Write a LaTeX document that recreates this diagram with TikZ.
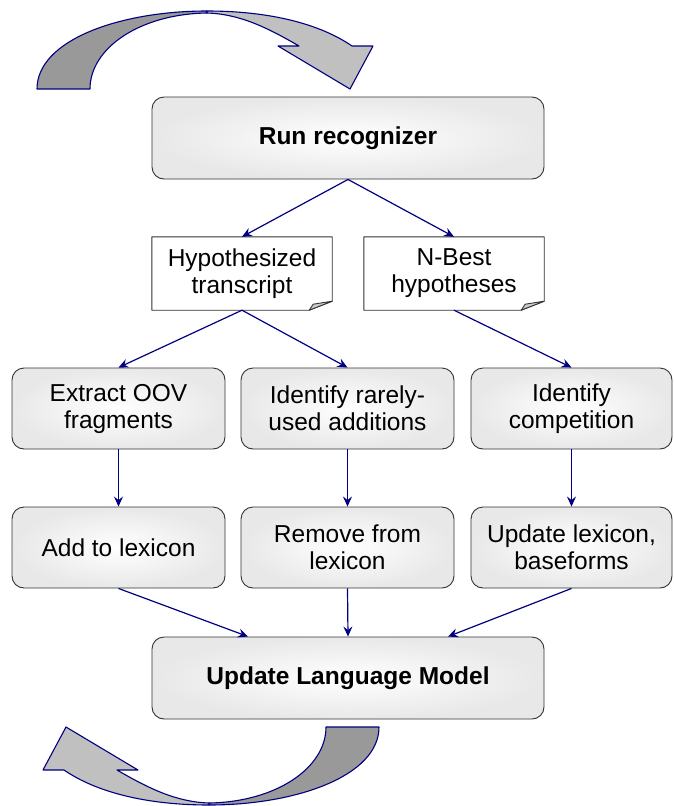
\documentclass[tikz,border=0pt]{standalone}
\usepackage{fontspec}
\setmainfont{Liberation Sans}
\usepackage{tikz}
\usetikzlibrary{arrows.meta,calc}

\definecolor{navy}{RGB}{0,0,128}
\definecolor{grisfonce}{RGB}{153,153,153}
\definecolor{grisclair}{RGB}{192,192,192}

\tikzset{
  boite/.style={rectangle, rounded corners=12pt, draw=black!80, line width=0.9pt,
    inner color=white, outer color=gray!18, align=center,
    font=\fontsize{24.5}{27}\selectfont, minimum height=81pt},
  doc/.style={rectangle, align=center, minimum width=180pt, minimum height=73pt,
    font=\fontsize{24.5}{27}\selectfont},
  docligne/.style={draw=black!80, line width=0.9pt, line join=round},
  ruban/.style={draw=navy, line width=1.1pt, line join=round},
  fleche/.style={draw=navy, line width=1.2pt, -{Stealth[length=10pt,width=9pt,inset=3.5pt]}},
}

\begin{document}
\begin{tikzpicture}[x=1pt,y=-1pt]
\pgfmathsetmacro{\xg}{118.5}%
\pgfmathsetmacro{\xm}{347.5}%
\pgfmathsetmacro{\xd}{571.5}%
\pgfmathsetmacro{\ya}{408.5}%
\pgfmathsetmacro{\yb}{547.5}%

\useasboundingbox (0,0) rectangle (673,806);

%fleches courbes (haut, puis bas par symetrie)
\foreach \ang in {0,180}{
  \begin{scope}[rotate around={\ang:(208,408)}]
    \filldraw[ruban, fill=grisfonce] (37,89) .. controls (37,40) and (120,11) .. (207,11)
      -- (207,13) .. controls (140,14) and (90,48) .. (90,89) -- cycle;
    \filldraw[ruban, fill=grisclair] (207,11) .. controls (270,11) and (320,24) .. (352,46)
      -- (373,46) -- (350,89) -- (278,46) -- (299,46)
      .. controls (268,28) and (240,14) .. (207,13) -- cycle;
  \end{scope}
}

%recognizer
\node[boite, minimum width=392pt, minimum height=82pt] (run) at (348,138) {\textbf{Run recognizer}};

%documents
\node[doc] (hyp) at (242,273.5) {Hypothesized\\transcript};
\node[doc] (nbest) at (454,273.5) {N-Best\\hypotheses};
\foreach \n in {hyp,nbest}{
  \draw[docligne] (\n.north west) -- (\n.north east) -- ($(\n.south east)+(0,-9)$)
    -- ($(\n.south east)+(-23,0)$) -- (\n.south west) -- cycle;
  \filldraw[docligne, fill=gray!40] ($(\n.south east)+(-23,0)$) -- ($(\n.south east)+(-19,-6)$)
    -- ($(\n.south east)+(0,-9)$) -- cycle;
}

%boites
\node[boite, minimum width=213pt] (oov) at (\xg,\ya) {Extract OOV\\fragments};
\node[boite, minimum width=213pt] (rare) at (\xm,\ya) {Identify rarely-\\used additions};
\node[boite, minimum width=201pt] (comp) at (\xd,\ya) {Identify\\competition};
\node[boite, minimum width=213pt] (ajout) at (\xg,\yb) {Add to lexicon};
\node[boite, minimum width=213pt] (retrait) at (\xm,\yb) {Remove from\\lexicon};
\node[boite, minimum width=201pt] (maj) at (\xd,\yb) {Update lexicon,\\baseforms};

%modele de langage
\node[boite, minimum width=392pt, minimum height=82pt] (lm) at (348,678) {\textbf{Update Language Model}};
\coordinate (lmg) at ($(lm.north)+(-100,0)$);
\coordinate (lmd) at ($(lm.north)+(100,0)$);

%fleches
\draw[fleche] (run.south) -- (hyp.north);
\draw[fleche] (run.south) -- (nbest.north);
\draw[fleche] (hyp.south) -- (oov.north);
\draw[fleche] (hyp.south) -- (rare.north);
\draw[fleche] (nbest.south) -- (comp.north);
\draw[fleche] (oov) -- (ajout);
\draw[fleche] (rare) -- (retrait);
\draw[fleche] (comp) -- (maj);
\draw[fleche] (ajout.south) -- (lmg);
\draw[fleche] (retrait.south) -- (lm.north);
\draw[fleche] (maj.south) -- (lmd);

\end{tikzpicture}
\end{document}
